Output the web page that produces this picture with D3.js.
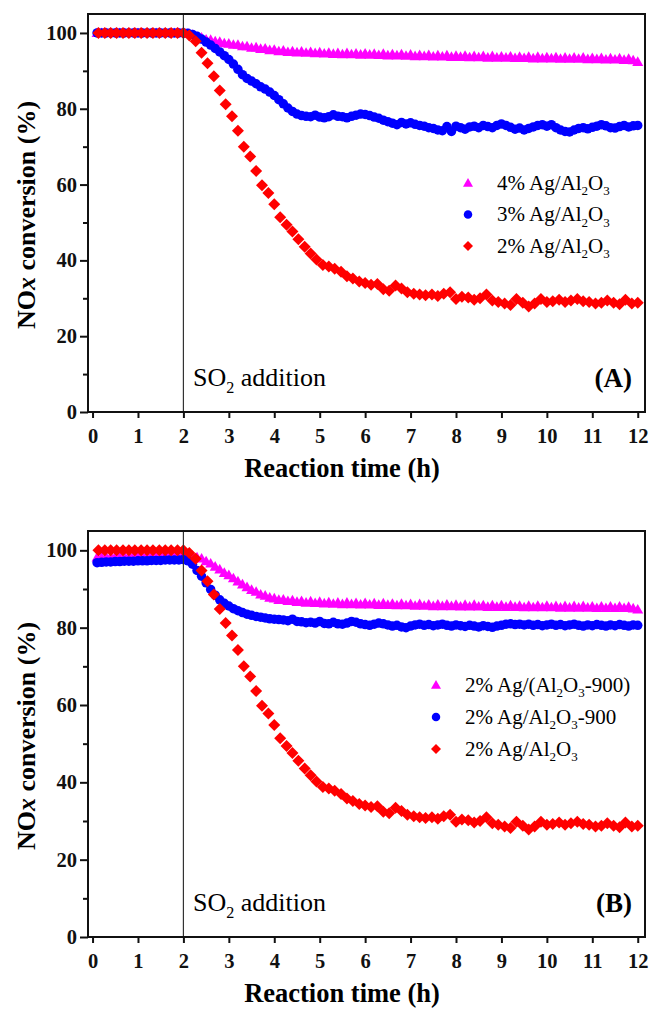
<!DOCTYPE html>
<html>
<head>
<meta charset="utf-8">
<script src="https://cdn.jsdelivr.net/npm/d3@7"></script>
<style>
  body { margin: 0; background: #fff; }
  svg text { font-family: "Liberation Serif", "DejaVu Serif", serif; }
</style>
</head>
<body>
<script>
// sampling times (h) for the triangle and circle series
var times = [
  0.1, 0.2, 0.3, 0.4, 0.5, 0.6, 0.7, 0.8, 0.9, 1.0, 1.1, 1.2, 1.3, 1.4, 1.5, 1.6, 1.7, 1.8, 1.9, 2.0,
  2.1, 2.2, 2.3, 2.4, 2.5, 2.6, 2.7, 2.8, 2.9, 3.0, 3.1, 3.2, 3.3, 3.4, 3.5, 3.6, 3.7, 3.8, 3.9, 4.0,
  4.1, 4.2, 4.3, 4.4, 4.5, 4.6, 4.7, 4.8, 4.9, 5.0, 5.1, 5.2, 5.3, 5.4, 5.5, 5.6, 5.7, 5.8, 5.9, 6.0,
  6.1, 6.2, 6.3, 6.4, 6.5, 6.6, 6.7, 6.8, 6.9, 7.0, 7.1, 7.2, 7.3, 7.4, 7.5, 7.6, 7.7, 7.8, 7.9, 8.0,
  8.1, 8.2, 8.3, 8.4, 8.5, 8.6, 8.7, 8.8, 8.9, 9.0, 9.1, 9.2, 9.3, 9.4, 9.5, 9.6, 9.7, 9.8, 9.9, 10.0,
  10.1, 10.2, 10.3, 10.4, 10.5, 10.6, 10.7, 10.8, 10.9, 11.0, 11.1, 11.2, 11.3, 11.4, 11.5, 11.6, 11.7, 11.8, 11.9, 12.0];

// sampling times (h) for the 2% Ag/Al2O3 series
var redTimes = [
  0.13, 0.27, 0.40, 0.53, 0.67, 0.80, 0.93, 1.07, 1.20, 1.33, 1.47, 1.60, 1.73, 1.87, 2.00,
  2.13, 2.27, 2.40, 2.53, 2.67, 2.80, 2.93, 3.07, 3.20, 3.33, 3.47, 3.60, 3.73, 3.87, 4.00,
  4.13, 4.27, 4.40, 4.53, 4.67, 4.80, 4.93, 5.07, 5.20, 5.33, 5.47, 5.60, 5.73, 5.87, 6.00,
  6.13, 6.27, 6.40, 6.53, 6.67, 6.80, 6.93, 7.07, 7.20, 7.33, 7.47, 7.60, 7.73, 7.87, 8.00,
  8.13, 8.27, 8.40, 8.53, 8.67, 8.80, 8.93, 9.07, 9.20, 9.33, 9.47, 9.60, 9.73, 9.87, 10.00,
  10.13, 10.27, 10.40, 10.53, 10.67, 10.80, 10.93, 11.07, 11.20, 11.33, 11.47, 11.60, 11.73, 11.87, 12.00];

// (A) 4% Ag/Al2O3
var ag4 = [
  100, 100, 100, 100, 100, 100, 100, 100, 100, 100, 100, 100, 100, 100, 100, 100, 100, 100, 100, 100,
  99.8, 99.5, 99.0, 98.8, 98.3, 98.2, 97.8, 97.7, 97.3, 97.2, 96.9, 96.9, 96.5, 96.5, 96.1, 96.2, 95.8, 95.9, 95.5, 95.6,
  95.2, 95.4, 95.0, 95.2, 94.9, 95.1, 94.8, 95.0, 94.7, 94.9, 94.6, 94.8, 94.5, 94.7, 94.4, 94.7, 94.4, 94.6, 94.3, 94.6,
  94.3, 94.5, 94.2, 94.5, 94.1, 94.4, 94.1, 94.4, 94.0, 94.3, 93.9, 94.2, 93.9, 94.2, 93.8, 94.1, 93.8, 94.1, 93.7, 94.0,
  93.7, 94.0, 93.6, 93.9, 93.6, 93.9, 93.5, 93.9, 93.5, 93.8, 93.5, 93.8, 93.4, 93.7, 93.4, 93.7, 93.3, 93.7, 93.3, 93.6,
  93.3, 93.6, 93.2, 93.5, 93.2, 93.5, 93.2, 93.5, 93.1, 93.4, 93.1, 93.4, 93.0, 93.3, 93.0, 93.3, 92.9, 93.2, 92.8, 92.4];

// (A) 3% Ag/Al2O3
var ag3 = [
  100, 100, 100, 100, 100, 100, 100, 100, 100, 100, 100, 100, 100, 100, 100, 100, 100, 100, 100, 100,
  99.9, 99.6, 99.1, 98.4, 97.6, 96.8, 95.9, 95.0, 94.0, 93.0, 91.8, 90.4, 89.0, 88.0, 87.3, 86.6, 85.8, 85.2, 84.4, 83.5,
  82.4, 81.3, 80.2, 79.3, 78.6, 78.2, 78.0, 77.9, 78.3, 77.8, 77.6, 77.9, 78.4, 78.0, 77.9, 77.6, 78.0, 78.3, 78.6, 78.5,
  78.2, 77.8, 77.5, 77.0, 76.6, 76.2, 75.8, 76.4, 76.0, 76.3, 75.9, 75.6, 75.4, 75.0, 74.8, 74.4, 74.2, 75.3, 74.0, 75.4,
  75.0, 74.6, 75.2, 75.4, 75.0, 75.6, 75.3, 75.0, 75.6, 76.0, 75.6, 75.1, 74.6, 74.9, 74.4, 74.8, 75.2, 75.6, 75.8, 75.4,
  75.8, 75.0, 74.4, 74.0, 73.9, 74.4, 74.8, 75.0, 74.7, 75.1, 75.4, 75.8, 75.5, 75.0, 74.9, 75.3, 75.6, 75.2, 75.5, 75.6];

// (A) and (B) 2% Ag/Al2O3
var ag2 = [
  100, 100, 100, 100, 100, 100, 100, 100, 100, 100, 100, 100, 100, 100, 100,
  99.3, 97.8, 94.8, 92.0, 88.6, 84.8, 81.2, 78.0, 74.2, 70.0, 67.4, 63.6, 59.8, 57.8, 54.8,
  51.4, 49.4, 47.6, 45.6, 43.6, 41.8, 40.2, 38.8, 38.4, 37.8, 37.0, 35.8, 35.2, 34.4, 34.0,
  33.6, 33.8, 32.4, 32.0, 33.4, 32.6, 31.6, 31.2, 31.0, 30.8, 31.0, 30.6, 31.2, 31.6, 29.8,
  30.4, 30.2, 29.6, 30.0, 31.0, 29.4, 29.0, 28.6, 28.2, 29.8, 28.8, 27.8, 28.6, 29.8, 29.0,
  29.2, 29.6, 29.0, 29.4, 29.8, 29.2, 29.0, 28.6, 28.8, 29.4, 28.8, 28.4, 29.6, 28.6, 28.8];

// (B) 2% Ag/(Al2O3-900)
var ag2on900 = [
  98.2, 98.3, 98.3, 98.4, 98.4, 98.5, 98.5, 98.5, 98.6, 98.6, 98.6, 98.7, 98.7, 98.7, 98.8, 98.8, 98.8, 98.9, 98.9, 99.0,
  98.9, 98.6, 98.2, 97.9, 97.2, 96.6, 95.8, 95.1, 94.2, 93.6, 92.8, 92.0, 91.2, 90.5, 89.8, 89.3, 88.6, 88.3, 87.8, 87.6,
  87.2, 87.3, 86.9, 87.1, 86.7, 86.9, 86.5, 86.8, 86.4, 86.7, 86.3, 86.6, 86.2, 86.5, 86.1, 86.5, 86.1, 86.4, 86.0, 86.4,
  86.0, 86.3, 85.9, 86.3, 85.9, 86.2, 85.8, 86.2, 85.8, 86.1, 85.7, 86.1, 85.7, 86.0, 85.6, 86.0, 85.6, 86.0, 85.6, 85.9,
  85.5, 85.9, 85.5, 85.9, 85.5, 85.8, 85.4, 85.8, 85.4, 85.8, 85.4, 85.8, 85.4, 85.7, 85.3, 85.7, 85.3, 85.7, 85.3, 85.7,
  85.3, 85.6, 85.2, 85.6, 85.2, 85.6, 85.2, 85.6, 85.2, 85.5, 85.1, 85.5, 85.1, 85.5, 85.1, 85.5, 85.1, 85.4, 85.0, 84.7];

// (B) 2% Ag/Al2O3-900
var ag2900 = [
  96.8, 96.9, 97.0, 97.0, 97.1, 97.1, 97.2, 97.2, 97.2, 97.3, 97.3, 97.3, 97.4, 97.4, 97.4, 97.5, 97.5, 97.5, 97.5, 97.6,
  97.3, 96.4, 94.8, 93.3, 91.6, 89.9, 88.4, 87.2, 86.3, 85.6, 84.9, 84.4, 83.9, 83.5, 83.2, 82.9, 82.7, 82.5, 82.3, 82.2,
  82.1, 82.0, 81.8, 82.2, 81.6, 81.5, 81.3, 81.4, 81.2, 81.6, 81.1, 81.0, 81.4, 81.0, 80.9, 81.2, 81.6, 81.4, 81.0, 80.8,
  80.6, 80.9, 81.2, 81.0, 80.7, 80.4, 80.6, 80.2, 80.0, 80.4, 80.7, 80.9, 80.6, 80.8, 80.5, 80.7, 80.9, 80.6, 80.4, 80.7,
  80.5, 80.3, 80.6, 80.4, 80.2, 80.5, 80.3, 80.1, 80.4, 80.6, 80.9, 81.0, 80.8, 80.9, 80.7, 80.9, 80.6, 80.8, 80.5, 80.7,
  80.9, 80.6, 80.8, 80.5, 80.7, 80.9, 80.6, 80.4, 80.7, 80.5, 80.8, 80.6, 80.4, 80.7, 80.5, 80.8, 80.6, 80.4, 80.7, 80.6];

var xTicks = [0, 1, 2, 3, 4, 5, 6, 7, 8, 9, 10, 11, 12];
var yTicks = [0, 20, 40, 60, 80, 100];
var yMinor = [10, 30, 50, 70, 90];
var so2Time = 2;

// legend labels: [text, subscript?]
var labA = [
  [["4% Ag/Al"], ["2", 1], ["O"], ["3", 1]],
  [["3% Ag/Al"], ["2", 1], ["O"], ["3", 1]],
  [["2% Ag/Al"], ["2", 1], ["O"], ["3", 1]]
];
var labB = [
  [["2% Ag/(Al"], ["2", 1], ["O"], ["3", 1], ["-900)"]],
  [["2% Ag/Al"], ["2", 1], ["O"], ["3", 1], ["-900"]],
  [["2% Ag/Al"], ["2", 1], ["O"], ["3", 1]]
];

var serif = "'Liberation Serif', 'DejaVu Serif', serif";
var w = 652, h = 1009;
var svg = d3.select("body").append("svg")
    .attr("width", w)
    .attr("height", h)
    .attr("font-family", serif);

var colors = { tri: "#ff00ff", dot: "#0000ff", dia: "#ff0000" };

function writeChem(sel, parts, fs) {
  var down = false;
  parts.forEach(function (p) {
    var t = sel.append("tspan").text(p[0]);
    if (p[1]) {
      t.attr("font-size", fs * 0.62).attr("dy", fs * 0.28);
      down = true;
    } else if (down) {
      t.attr("dy", -fs * 0.28);
      down = false;
    }
  });
}

function marker(g, shape, cx, cy, size) {
  var r = size / 2, p;
  if (shape === "dot") {
    g.append("circle").attr("cx", cx).attr("cy", cy).attr("r", r).attr("fill", colors.dot);
    return;
  }
  p = d3.path();
  if (shape === "tri") {
    p.moveTo(cx, cy - r);
    p.lineTo(cx + r, cy + r * 0.75);
    p.lineTo(cx - r, cy + r * 0.75);
  } else {
    p.moveTo(cx, cy - r);
    p.lineTo(cx + r, cy);
    p.lineTo(cx, cy + r);
    p.lineTo(cx - r, cy);
  }
  p.closePath();
  g.append("path").attr("d", p.toString()).attr("fill", colors[shape]);
}

function drawPanel(p) {
  var x = d3.scaleLinear().domain([-0.1, 12.16]).range([88, 645]);
  var y = d3.scaleLinear().domain([0, 105]).range([p.bottom, p.top]);
  var g = svg.append("g");

  // series: triangles, then circles, then diamonds on top
  p.series.forEach(function (s) {
    var sg = g.append("g");
    s.t.forEach(function (t, i) {
      marker(sg, s.shape, x(t), y(s.v[i]), s.size);
    });
  });

  // SO2 line
  g.append("line")
    .attr("x1", x(so2Time)).attr("x2", x(so2Time))
    .attr("y1", p.top).attr("y2", p.bottom)
    .attr("stroke", "#333").attr("stroke-width", 1.2);

  // frame
  g.append("rect")
    .attr("x", 88).attr("y", p.top)
    .attr("width", 645 - 88).attr("height", p.bottom - p.top)
    .attr("fill", "none").attr("stroke", "#111").attr("stroke-width", 2);

  // axes
  var xa = g.append("g")
    .attr("transform", "translate(0," + p.bottom + ")")
    .call(d3.axisBottom(x).tickValues(xTicks).tickSize(6).tickPadding(10).tickFormat(d3.format("d")));
  var ya = g.append("g")
    .attr("transform", "translate(88,0)")
    .call(d3.axisLeft(y).tickValues(yTicks).tickSize(8).tickPadding(3));
  var ym = g.append("g")
    .attr("transform", "translate(88,0)")
    .call(d3.axisLeft(y).tickValues(yMinor).tickSize(5).tickFormat(""));
  [xa, ya, ym].forEach(function (a) {
    a.attr("font-family", serif);
    a.select(".domain").remove();
    a.selectAll("line").attr("stroke", "#111").attr("stroke-width", 2);
    a.selectAll("text")
      .attr("fill", "#111")
      .attr("font-size", 20.5)
      .attr("font-weight", "bold");
  });

  // axis titles
  g.append("text")
    .attr("x", 342).attr("y", p.bottom + 65)
    .attr("text-anchor", "middle")
    .attr("font-size", 26.5).attr("font-weight", "bold")
    .text("Reaction time (h)");

  var yl = g.append("text")
    .attr("transform", "translate(35," + ((p.top + p.bottom) / 2 + 2) + ") rotate(-90)")
    .attr("text-anchor", "middle")
    .attr("font-size", 26).attr("font-weight", "bold");
  yl.append("tspan").text("NO");
  yl.append("tspan").attr("font-style", "italic").text("x");
  yl.append("tspan").text(" conversion (%)");

  // annotations
  var so2 = g.append("text")
    .attr("x", 193).attr("y", p.bottom - 26)
    .attr("font-size", 26);
  writeChem(so2, [["SO"], ["2", 1], [" addition"]], 26);

  g.append("text")
    .attr("x", 632).attr("y", p.bottom - 25)
    .attr("text-anchor", "end")
    .attr("font-size", 27).attr("font-weight", "bold")
    .text(p.tag);

  // legend
  p.series.forEach(function (s, i) {
    var ly = p.legend.y + i * p.legend.dy;
    marker(g, s.shape, p.legend.x, ly, s.shape === "dot" ? 8.5 : 10);
    var lt = g.append("text")
      .attr("x", p.legend.x + p.legend.gap).attr("y", ly + 6.5)
      .attr("font-size", 21);
    writeChem(lt, p.labels[i], 21);
  });
}

drawPanel({
  tag: "(A)", top: 14, bottom: 412,
  legend: { x: 468, y: 183, dy: 31.5, gap: 29 },
  labels: labA,
  series: [
    { t: times, v: ag4, shape: "tri", size: 11 },
    { t: times, v: ag3, shape: "dot", size: 9.5 },
    { t: redTimes, v: ag2, shape: "dia", size: 12 }
  ]
});

drawPanel({
  tag: "(B)", top: 531, bottom: 937,
  legend: { x: 436, y: 685, dy: 32, gap: 29 },
  labels: labB,
  series: [
    { t: times, v: ag2on900, shape: "tri", size: 11 },
    { t: times, v: ag2900, shape: "dot", size: 9.5 },
    { t: redTimes, v: ag2, shape: "dia", size: 12 }
  ]
});
</script>
</body>
</html>
